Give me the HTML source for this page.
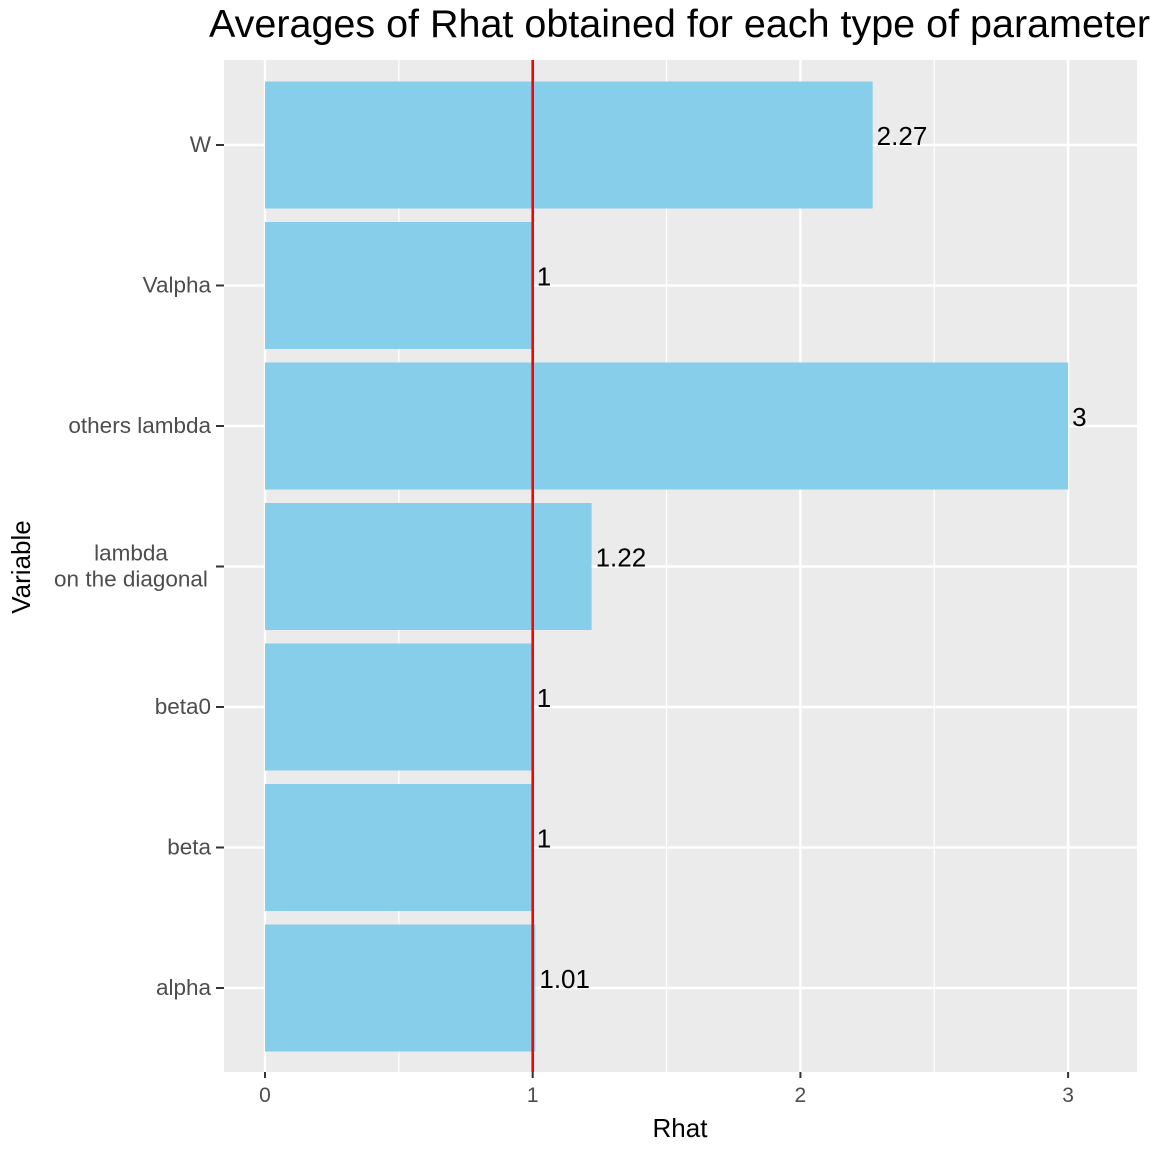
<!DOCTYPE html>
<html><head><meta charset="utf-8"><style>
body{margin:0;background:#fff;}
svg{display:block;font-family:"Liberation Sans",Arial,sans-serif;}
</style></head><body>
<svg id="chart" width="1152" height="1152">
<text x="209" y="37" font-size="39" textLength="941" lengthAdjust="spacingAndGlyphs" fill="#000">Averages of Rhat obtained for each type of parameter</text>
<rect x="224" y="60" width="913" height="1012" fill="#ebebeb"/>
<g id="grid"></g><g id="bars"></g><g id="labels"></g><g id="axes"></g>
<text x="680" y="1137" font-size="26" text-anchor="middle" fill="#000">Rhat</text>
<text transform="translate(30,567) rotate(-90)" font-size="26" text-anchor="middle" fill="#000">Variable</text>
</svg>
<script>
const categories=["W","Valpha","others lambda","lambda\non the diagonal","beta0","beta","alpha"];
const values=[2.27,1,3,1.22,1,1,1.01];
const valueLabels=["2.27","1","3","1.22","1","1","1.01"];
const xTicks=[0,1,2,3];
const xMinor=[0.5,1.5,2.5];
const refLine=1;
const NS="http://www.w3.org/2000/svg";
const x=v=>265+v*267.7;
const y=i=>145+i*140.5;
const bh=127;
function el(t,a,p){const e=document.createElementNS(NS,t);for(const k in a)e.setAttribute(k,a[k]);document.getElementById(p).appendChild(e);return e;}
xMinor.forEach(v=>{const e=el('line',{x1:x(v),x2:x(v),y1:60,y2:1072,stroke:'#fff','stroke-width':1.2},'grid');

});
xTicks.forEach(v=>{const e=el('line',{x1:x(v),x2:x(v),y1:60,y2:1072,stroke:'#fff','stroke-width':2.4},'grid');


const t=el('line',{x1:x(v),x2:x(v),y1:1072,y2:1078,stroke:'#333','stroke-width':2},'axes');


const l=el('text',{x:x(v),y:1102,'font-size':21,'text-anchor':'middle',fill:'#4d4d4d'},'axes');l.textContent=v;

});
categories.forEach((c,i)=>{const g=el('line',{x1:224,x2:1137,y1:y(i),y2:y(i),stroke:'#fff','stroke-width':2.4},'grid');


const b=el('rect',{x:x(0),y:y(i)-bh/2,width:x(values[i])-x(0),height:bh,fill:'#87ceeb'},'bars');


const lbl=el('text',{x:x(values[i])+4,y:y(i)+0,'font-size':26,fill:'#000'},'labels');lbl.textContent=valueLabels[i];


const t=el('line',{x1:216,x2:224,y1:y(i),y2:y(i),stroke:'#333','stroke-width':2},'axes');


const lines=c.split('\n');
lines.forEach((ln,j)=>{const tl=el('text',{x:lines.length>1?131:211,y:y(i)+7+(j-(lines.length-1)/2)*26,'font-size':22.5,'text-anchor':lines.length>1?'middle':'end',fill:'#4d4d4d'},'axes');tl.textContent=ln;

});});
const r=el('line',{x1:x(refLine),x2:x(refLine),y1:60,y2:1072,stroke:'#ff0000','stroke-width':2.6},'labels');


</script>
</body></html>
